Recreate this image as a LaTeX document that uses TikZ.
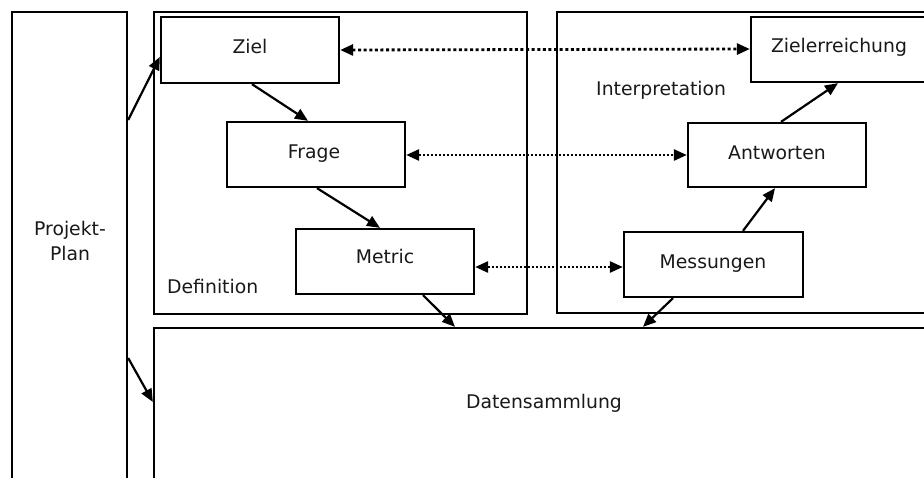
\documentclass[tikz,border=0pt]{standalone}
\usepackage{fontspec}
\setmainfont{DejaVu Sans}
\usetikzlibrary{arrows.meta}
\tikzset{
  box/.style={draw, line width=2.3pt, rectangle, inner sep=0pt, fill=none},
  txt/.style={inner sep=0pt, font=\fontsize{18.8pt}{25pt}\selectfont, text=black!90},
  tip/.style={Triangle[length=13pt,width=11pt]},
  arr/.style={line width=2.2pt, -{Triangle[length=13pt,width=11pt]}},
  dotA/.style={line width=2.8pt, dash pattern=on 3pt off 2.6pt, {Triangle[length=13pt,width=11pt]}-{Triangle[length=13pt,width=11pt]}},
  dotB/.style={line width=2.6pt, dash pattern=on 2pt off 2pt, {Triangle[length=13pt,width=11pt]}-{Triangle[length=13pt,width=11pt]}}
}
\begin{document}
\begin{tikzpicture}[x=1pt,y=-1pt]
\useasboundingbox (0,0) rectangle (924,477);
\clip (0,0) rectangle (924,477);
\fill[white] (0,0) rectangle (924,477);
% large boxes
\node[box, minimum width=115pt, minimum height=477pt] (plan) at (69.5,250.5) {};
\node[box, minimum width=373pt, minimum height=302pt] (defbox) at (340.5,163) {};
\node[box, minimum width=383pt, minimum height=301pt] (intbox) at (748.5,162.5) {};
\node[box, minimum width=786pt, minimum height=162pt] (daten) at (547,409) {};
% small boxes
\node[box, minimum width=178pt, minimum height=66pt] (ziel) at (250,50) {};
\node[box, minimum width=178pt, minimum height=65pt] (frage) at (316,154.5) {};
\node[box, minimum width=178pt, minimum height=65pt] (metric) at (385,261.5) {};
\node[box, minimum width=176pt, minimum height=65pt] (zielerr) at (839,49.5) {};
\node[box, minimum width=178pt, minimum height=64pt] (antw) at (777,155) {};
\node[box, minimum width=179pt, minimum height=65pt] (mess) at (713.5,264.5) {};
% texts
\node[txt, anchor=base] (tplan1) at (70,235) {Projekt-};
\node[txt, anchor=base] (tplan2) at (70,260) {Plan};
\node[txt, anchor=base west] (tdef) at (167,293) {Definition};
\node[txt, anchor=base west] (tint) at (596,95) {Interpretation};
\node[txt, anchor=base] (tdaten) at (544,408) {Datensammlung};
\node[txt, anchor=base] (tziel) at (250,53) {Ziel};
\node[txt, anchor=base] (tfrage) at (314,158) {Frage};
\node[txt, anchor=base] (tmetric) at (385,263) {Metric};
\node[txt, anchor=base] (tzielerr) at (839,52) {Zielerreichung};
\node[txt, anchor=base] (tantw) at (777,159) {Antworten};
\node[txt, anchor=base] (tmess) at (713,268) {Messungen};
% solid arrows
\draw[arr] ([yshift=130.5pt]plan.east) -- ([yshift=-7pt]ziel.west);
\draw[arr] ([yshift=-107.5pt]plan.east) -- ([yshift=7pt]daten.west);
\draw[arr] ([xshift=2pt]ziel.south) -- ([xshift=-8pt]frage.north);
\draw[arr] ([xshift=1pt]frage.south) -- ([xshift=-5pt]metric.north);
\draw[arr] ([xshift=38pt]metric.south) -- ([xshift=-92pt]daten.north);
\draw[arr] ([xshift=-40.5pt]mess.south) -- ([xshift=96pt]daten.north);
\draw[arr] ([xshift=29.5pt]mess.north) -- ([xshift=-2pt]antw.south);
\draw[arr] ([xshift=4pt]antw.north) -- ([xshift=-1pt]zielerr.south);
% dotted double arrows
\draw[dotA] (ziel.east) -- ([yshift=0.5pt]zielerr.west);
\draw[dotB] ([yshift=-0.5pt]frage.east) -- (antw.west);
\draw[dotB] ([yshift=-5.5pt]metric.east) -- ([yshift=-2.5pt]mess.west);
\end{tikzpicture}
\end{document}
